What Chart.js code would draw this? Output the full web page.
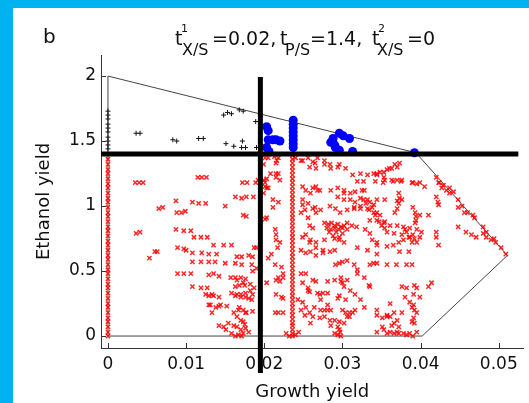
<!DOCTYPE html>
<html>
<head>
<meta charset="utf-8">
<script src="https://cdn.jsdelivr.net/npm/chart.js@4"></script>
<style>
  html, body { margin:0; padding:0; background:#00b2f0; width:529px; height:403px; overflow:hidden; }
  #wrap { position:absolute; left:13px; top:8px; width:516px; height:395px; background:#fff; }
</style>
</head>
<body>
<div id="wrap"><canvas id="yieldChart" width="516" height="395"></canvas></div>
<script>
// axes
const xTicks = [0, 0.01, 0.02, 0.03, 0.04, 0.05];
const yTicks = [0, 0.5, 1, 1.5, 2];
const xMin = -0.00089, xMax = 0.05316;
const yMin = -0.092, yMax = 2.162;

// feasible region outline
const hullX = [0, 0.0394, 0.0511, 0.0402, 0, 0];
const hullY = [2, 1.41, 0.62, 0, 0, 2];

// thresholds (thick black lines)
const cutX = 0.0195;
const cutYSpan = [-0.285, 1.992];
const cutY = 1.4;
const cutXSpan = [xMin, 0.0525];

// red points on the x = 0 edge
const edgeY = [0, 0.03, 0.07, 0.11, 0.14, 0.18, 0.22, 0.25, 0.29, 0.33, 0.37, 0.4, 0.44, 0.48, 0.51, 0.55, 0.59,
  0.62, 0.66, 0.7, 0.73, 0.77, 0.81, 0.84, 0.88, 0.92, 0.95, 0.99, 1.03, 1.06, 1.1, 1.14, 1.17, 1.21, 1.25, 1.28, 1.32, 1.36];

// red strip near growth yield 0.0236
const stripX = 0.0236;
const stripY = [0, 0.02, 0.05, 0.08, 0.1, 0.13, 0.16, 0.19, 0.22, 0.25, 0.28, 0.31, 0.34, 0.37, 0.4, 0.43, 0.46, 0.49,
  0.52, 0.55, 0.58, 0.61, 0.64, 0.67, 0.7, 0.73, 0.76, 0.79, 0.82, 0.85, 0.88, 0.91, 0.94, 0.97, 1.0, 1.03, 1.06,
  1.09, 1.12, 1.15, 1.18, 1.21, 1.24, 1.27, 1.3, 1.33, 1.36, 1.39];

// other red points [growth, ethanol]
const redPts = [
  [0.0035,1.18],[0.004,1.18],[0.0045,1.18],[0.0115,1.22],[0.012,1.22],[0.0126,1.22],
  [0.0065,0.98],[0.007,0.99],[0.0088,0.95],[0.0094,0.95],[0.0099,0.96],
  [0.0087,1.04],[0.0108,1.03],[0.0116,1.02],[0.0125,1.02],[0.015,1.0],
  [0.0036,0.79],[0.0041,0.8],[0.0087,0.82],[0.0097,0.81],[0.0106,0.81],
  [0.011,0.76],[0.0119,0.76],[0.0127,0.76],[0.0135,0.7],[0.0148,0.7],[0.0158,0.7],
  [0.006,0.65],[0.0063,0.65],[0.0053,0.6],[0.0089,0.68],[0.0097,0.67],
  [0.01,0.66],[0.0108,0.64],[0.012,0.64],[0.0129,0.63],[0.0139,0.63],
  [0.0108,0.57],[0.0119,0.57],[0.0129,0.57],[0.0137,0.57],
  [0.015,0.56],[0.0163,0.56],[0.0171,0.55],[0.0184,0.55],
  [0.0165,0.61],[0.0171,0.61],[0.018,0.62],[0.0185,0.61],
  [0.0089,0.48],[0.0097,0.48],[0.0106,0.48],[0.0129,0.47],[0.0135,0.48],[0.0142,0.46],
  [0.0157,0.45],[0.0163,0.45],[0.017,0.45],[0.0176,0.44],
  [0.0108,0.38],[0.0119,0.37],[0.0127,0.37],
  [0.0129,0.31],[0.0135,0.31],[0.0163,0.31],[0.017,0.32],[0.0176,0.3],[0.0185,0.32],
  [0.0168,0.39],[0.0175,0.39],[0.0182,0.4],[0.0187,0.37],
  [0.0131,0.24],[0.0142,0.23],[0.0152,0.23],[0.0168,0.22],[0.0173,0.2],[0.0176,0.18],[0.0185,0.19],
  [0.0154,0.1],[0.0161,0.08],[0.0165,0.07],[0.017,0.05],[0.0173,0.02],[0.0167,0.01],[0.0158,0.02],
  [0.0163,0],[0.0171,0],[0.0176,0.06],[0.0165,0.15],[0.017,0.12],[0.0173,0.11],[0.0161,0.18],
  [0.0167,0.2],[0.0177,0.18],[0.0142,0.08],[0.0148,0.07],[0.0151,0.05],[0.018,0.03],[0.0175,0.09],
  [0.0158,0.33],[0.0165,0.32],[0.017,0.3],[0.0176,0.33],[0.0182,0.35],[0.0163,0.38],[0.0165,0.43],
  [0.0173,0.41],[0.018,0.29],[0.0184,0.28],[0.0125,0.32],[0.0133,0.32],[0.0142,0.3],
  [0.0129,0.24],[0.0138,0.22],[0.0144,0.24],[0.0133,0.18],
  [0.0172,1.18],[0.0178,1.18],[0.0163,1.07],[0.0171,1.06],[0.0177,1.07],[0.0186,1.07],
  [0.0173,0.93],[0.0177,0.92],[0.0189,1.18],[0.019,0.68],[0.0187,0.68],[0.0185,0.5],[0.019,0.52],
  [0.0192,1.2],[0.0199,1.2],[0.0203,1.21],[0.0201,1.15],[0.0205,1.14],[0.0208,1.25],[0.0215,1.25],
  [0.0215,1.33],[0.0216,1.35],[0.0205,1.37],[0.0213,1.38],[0.0218,1.37],[0.0201,1.37],[0.0199,1.32],
  [0.0218,1.25],[0.0215,1.22],[0.022,1.2],[0.0201,1.18],[0.0203,1.14],[0.0199,1.1],
  [0.0211,1.05],[0.0218,1.03],[0.0211,0.99],[0.0203,0.91],[0.0201,0.9],[0.0214,0.82],[0.0215,0.78],
  [0.0215,0.74],[0.022,0.72],[0.0217,0.68],[0.0203,0.41],
  [0.0214,0.55],[0.0222,0.53],[0.0224,0.48],[0.0218,0.45],[0.0224,0.45],[0.0215,0.43],[0.022,0.42],
  [0.0215,0.32],[0.0222,0.3],[0.0224,0.29],[0.0214,0.18],[0.0218,0.18],[0.0224,0.18],
  [0.0228,0.02],[0.0232,0],[0.024,0.01],[0.0244,0.03],[0.0205,0.6],[0.0209,0.63],
  [0.024,1.37],[0.0249,1.35],[0.0258,1.3],[0.0265,1.33],[0.0277,1.32],[0.0285,1.29],[0.0296,1.32],[0.0304,1.29],
  [0.0247,1.35],[0.0256,1.37],[0.0262,1.34],[0.0268,1.37],[0.0277,1.35],[0.0284,1.32],[0.0294,1.3],[0.0266,1.29],
  [0.0313,1.24],[0.0323,1.25],[0.0332,1.24],[0.0344,1.25],[0.0353,1.22],
  [0.034,1.25],[0.0348,1.26],[0.0357,1.28],[0.0363,1.29],[0.037,1.3],
  [0.0319,1.19],[0.0327,1.19],[0.0342,1.19],[0.0352,1.18],[0.0365,1.19],[0.0375,1.19],[0.039,1.18],[0.0395,1.17],
  [0.0249,1.15],[0.0253,1.12],[0.0259,1.1],[0.0266,1.15],[0.0271,1.12],[0.0262,1.14],[0.0268,1.12],
  [0.0249,1.05],[0.0256,1.02],[0.0252,0.97],[0.0265,0.99],[0.0249,1.01],[0.0262,0.98],[0.0266,0.95],[0.0272,0.97],
  [0.0284,1.0],[0.0291,0.98],[0.0297,0.95],[0.0306,0.97],[0.0315,0.98],[0.0323,0.98],
  [0.0302,1.1],[0.031,1.1],[0.0316,1.11],[0.0325,1.12],
  [0.0332,1.05],[0.0338,0.99],[0.0344,0.95],[0.0342,0.93],[0.0334,0.97],[0.0327,1.05],[0.033,1.02],[0.0335,1.03],
  [0.0285,1.12],[0.0294,1.14],[0.0302,1.12],[0.0294,1.07],[0.0302,1.05],[0.031,1.05],[0.0316,1.03],[0.0323,1.06],[0.0328,1.12],
  [0.034,1.01],[0.0348,0.93],[0.0344,1.05],[0.0354,1.05],[0.037,1.04],[0.0376,1.05],
  [0.0247,0.95],[0.0256,0.91],[0.0258,0.85],[0.0262,0.83],[0.0253,0.78],[0.0258,0.72],[0.0266,0.68],[0.0275,0.66],
  [0.0277,0.87],[0.0282,0.86],[0.0286,0.87],[0.029,0.85],[0.0294,0.86],[0.0298,0.84],[0.0302,0.85],
  [0.028,0.83],[0.0285,0.82],[0.029,0.83],[0.0295,0.82],[0.03,0.83],[0.0283,0.8],[0.0292,0.8],[0.03,0.79],
  [0.0288,0.77],[0.0296,0.76],[0.0306,0.87],[0.0312,0.85],[0.0318,0.84],[0.0306,0.82],
  [0.0335,0.89],[0.0347,0.88],[0.0354,0.88],
  [0.0315,0.99],[0.0323,1.0],[0.0332,0.98],[0.034,0.95],[0.0344,0.89],[0.035,0.85],[0.0354,0.83],
  [0.0249,0.76],[0.0259,0.74],[0.0266,0.72],[0.0277,0.74],[0.029,0.75],[0.0296,0.74],[0.0302,0.72],[0.0319,0.68],[0.0332,0.66],
  [0.0247,0.66],[0.0253,0.64],[0.0259,0.65],[0.0266,0.62],[0.0275,0.64],[0.0284,0.65],[0.029,0.66],
  [0.0291,0.55],[0.0296,0.56],[0.03,0.57],[0.0306,0.58],[0.0315,0.55],[0.0319,0.51],
  [0.0247,0.48],[0.0253,0.48],[0.0262,0.43],[0.0266,0.42],[0.0256,0.35],[0.0258,0.34],
  [0.0271,0.32],[0.0275,0.33],[0.0281,0.33],[0.0281,0.42],[0.029,0.43],[0.0298,0.42],[0.03,0.41],
  [0.0294,0.29],[0.0296,0.31],[0.0304,0.28],[0.0249,0.26],[0.0253,0.22],[0.0258,0.18],[0.0262,0.15],
  [0.0277,0.2],[0.0281,0.2],[0.0271,0.14],[0.0284,0.12],[0.0285,0.08],
  [0.03,0.2],[0.0304,0.18],[0.0309,0.18],[0.0313,0.18],[0.0306,0.15],
  [0.0294,0.07],[0.0296,0.05],[0.0294,0.01],[0.0298,0],[0.029,0.02],[0.0296,0.11],
  [0.0319,0.48],[0.0328,0.45],[0.0335,0.55],[0.034,0.56],[0.0344,0.56],[0.0335,0.38],
  [0.0344,0.16],[0.0353,0.05],[0.0334,0.39],[0.0344,0.2],[0.0351,0.14],[0.0357,0.16],[0.0361,0.15],
  [0.0366,0.1],[0.0372,0.07],[0.0344,0.03],[0.0357,0.02],[0.0366,0.02],[0.0372,0.02],
  [0.0298,0.45],[0.0306,0.43],[0.0302,0.38],[0.031,0.35],[0.0316,0.32],[0.0323,0.28],[0.0328,0.22],
  [0.0316,0.2],[0.0309,0.15],[0.0302,0.1],[0.0297,0.03],
  [0.0249,0.41],[0.0256,0.37],[0.0268,0.33],[0.0272,0.28],[0.0281,0.24],[0.0285,0.2],[0.029,0.12],
  [0.0277,0.15],[0.0272,0.2],[0.0264,0.22],[0.0243,0.28],[0.0247,0.2],[0.0252,0.16],[0.0259,0.1],
  [0.0344,1.24],[0.0353,1.26],[0.036,1.29],[0.0367,1.32],[0.0373,1.33],
  [0.0354,1.2],[0.0363,1.2],[0.037,1.2],[0.0376,1.2],[0.0389,1.18],[0.0399,1.18],
  [0.0405,1.15],[0.0423,1.18],[0.0427,1.14],[0.0433,1.12],[0.0437,1.1],
  [0.042,1.07],[0.0422,1.03],[0.0423,1.01],
  [0.0372,1.1],[0.0373,1.06],[0.0372,1.02],[0.037,0.98],[0.0367,0.95],
  [0.039,0.99],[0.0393,0.95],[0.0394,0.92],[0.0394,0.89],[0.0393,0.87],[0.041,0.93],[0.0399,0.93],
  [0.0448,0.99],[0.0456,0.95],[0.0467,0.93],
  [0.0448,0.84],[0.0458,0.8],[0.0465,0.78],[0.0471,0.76],[0.048,0.79],[0.0484,0.76],[0.049,0.74],
  [0.0496,0.72],[0.0503,0.68],[0.0509,0.63],
  [0.0353,0.87],[0.0361,0.85],[0.037,0.85],[0.0378,0.84],[0.0386,0.83],[0.0395,0.82],[0.0401,0.8],
  [0.0357,0.8],[0.0366,0.79],[0.0376,0.78],[0.0385,0.76],[0.0392,0.75],[0.0399,0.76],[0.0389,0.72],
  [0.0395,0.72],[0.0378,0.74],[0.0382,0.8],[0.039,0.78],[0.0386,0.76],[0.038,0.82],
  [0.0373,0.65],[0.0385,0.65],[0.042,0.76],[0.0423,0.7],[0.042,0.8],
  [0.0357,0.55],[0.0369,0.55],[0.0382,0.55],[0.0389,0.55],
  [0.0376,0.38],[0.0382,0.37],[0.0392,0.39],[0.0395,0.37],[0.041,0.38],[0.0414,0.41],
  [0.038,0.3],[0.0391,0.32],[0.0399,0.3],
  [0.0361,0.25],[0.0386,0.26],[0.0391,0.24],[0.0389,0.22],[0.0392,0.2],[0.0395,0.18],[0.0391,0.14],
  [0.0389,0.11],[0.0392,0.1],[0.0366,0.18],[0.0376,0.18],[0.0357,0.15],[0.037,0.12],[0.0363,0.08],
  [0.0351,0.07],[0.0361,0.03],[0.037,0.03],[0.0378,0.02],[0.0386,0.02],[0.0395,0.03],[0.0382,0.01],[0.039,0],
  [0.042,1.22],[0.0424,1.18],[0.0429,1.16],[0.0437,1.14],[0.0442,1.11],
  [0.0448,1.05],[0.0453,1.0],[0.046,0.95],[0.0469,0.91],[0.048,0.84],[0.0484,0.8],[0.0494,0.75],
  [0.0344,0.63],[0.0344,0.7],[0.0329,0.82],[0.0335,0.79],[0.0338,0.74],[0.0344,0.72],
  [0.0357,0.69],[0.0365,0.7],[0.0372,0.72]
];

// blue points above the ethanol threshold
const bluePts = [
  [0.0203,1.61],[0.0205,1.58],[0.0205,1.51],[0.0211,1.51],[0.0215,1.51],[0.022,1.5],[0.0203,1.45],[0.0206,1.42],
  [0.0237,1.45],[0.0237,1.48],[0.0237,1.51],[0.0237,1.54],[0.0237,1.57],[0.0237,1.6],[0.0237,1.63],[0.0237,1.66],
  [0.0296,1.56],[0.0285,1.49],[0.0309,1.52],[0.0291,1.45],[0.0313,1.42],[0.0392,1.41],
  [0.0301,1.54],[0.0288,1.52],[0.029,1.47],[0.0296,1.43]
];

// black points above the threshold, below cutX
const blackPts = [
  [0,1.44],[0,1.47],[0,1.5],[0,1.53],[0,1.57],[0,1.6],[0,1.63],[0,1.67],[0,1.7],[0,1.73],
  [0.0036,1.56],[0.0041,1.56],[0.0083,1.51],[0.0088,1.5],[0.0116,1.52],[0.0122,1.52],
  [0.0148,1.7],[0.0153,1.72],[0.0158,1.71],[0.0168,1.74],[0.0173,1.73],
  [0.0151,1.48],[0.0161,1.46],[0.0171,1.45],[0.0176,1.45],[0.0172,1.5],[0.0189,1.65],[0.019,1.45]
];

const FONT = "'DejaVu Sans', sans-serif";
const toXY = pts => pts.map(p => ({x: p[0], y: p[1]}));

const redData = edgeY.map(y => ({x: 0, y: y}))
  .concat(stripY.map(y => ({x: stripX, y: y})))
  .concat(toXY(redPts));

const hullData = hullX.map((x, i) => ({x: x, y: hullY[i]}));

// inward tick marks like the original figure
const inwardTicks = {
  id: "inwardTicks",
  afterDraw(chart) {
    const {ctx, chartArea: a, scales: {x, y}} = chart;
    ctx.save();
    ctx.strokeStyle = "#333";
    ctx.lineWidth = 1;
    ctx.beginPath();
    xTicks.forEach(v => {
      const px = Math.round(x.getPixelForValue(v)) + 0.5;
      ctx.moveTo(px, a.bottom);
      ctx.lineTo(px, a.bottom - 5);
    });
    yTicks.forEach(v => {
      const py = Math.round(y.getPixelForValue(v)) + 0.5;
      ctx.moveTo(a.left, py);
      ctx.lineTo(a.left + 5, py);
    });
    ctx.stroke();
    ctx.restore();
  }
};

// panel letter and parameter line
const panelTitle = {
  id: "panelTitle",
  afterDraw(chart) {
    const c = chart.ctx;
    c.save();
    c.fillStyle = "#111";
    c.textBaseline = "alphabetic";
    c.textAlign = "left";
    c.font = "20px " + FONT;
    c.fillText("b", 30, 35);
    const parts = [
      ["t", 162, 37, 19], ["1", 168, 24, 11], ["X/S", 169, 47, 16], ["=0.02,", 199, 37, 19],
      ["t", 267, 37, 19], ["P/S", 272, 47, 16], ["=1.4,", 297, 37, 19],
      ["t", 359, 37, 19], ["2", 365, 24, 11], ["X/S", 364, 47, 16], ["=0", 394, 37, 19]
    ];
    parts.forEach(p => {
      c.font = p[3] + "px " + FONT;
      c.fillText(p[0], p[1], p[2]);
    });
    c.restore();
  }
};

const ctx = document.getElementById("yieldChart");

new Chart(ctx, {
  type: "scatter",
  data: {
    datasets: [
      {
        label: "growth cut",
        data: [{x: cutX, y: cutYSpan[0]}, {x: cutX, y: cutYSpan[1]}],
        showLine: true, borderColor: "#000", borderWidth: 5, pointRadius: 0,
        borderCapStyle: "butt", clip: false, order: 0
      },
      {
        label: "ethanol cut",
        data: [{x: cutXSpan[0], y: cutY}, {x: cutXSpan[1], y: cutY}],
        showLine: true, borderColor: "#000", borderWidth: 5, pointRadius: 0,
        borderCapStyle: "butt", clip: false, order: 0
      },
      {
        label: "above both",
        data: toXY(bluePts),
        pointStyle: "circle", pointRadius: 4.5, backgroundColor: "#0000ff",
        borderColor: "#0000ff", borderWidth: 0, order: 1
      },
      {
        label: "above ethanol",
        data: toXY(blackPts),
        pointStyle: "cross", pointRadius: 2.5, borderColor: "#111", borderWidth: 1, order: 2
      },
      {
        label: "below",
        data: redData,
        pointStyle: "crossRot", pointRadius: 3, borderColor: "rgba(255,0,0,0.85)", borderWidth: 1.5, order: 3
      },
      {
        label: "hull",
        data: hullData,
        showLine: true, borderColor: "#444", borderWidth: 1, pointRadius: 0, order: 4
      }
    ]
  },
  options: {
    responsive: false,
    animation: false,
    devicePixelRatio: 1,
    events: [],
    layout: { padding: { left: 0, top: 47, right: 1, bottom: 0 } },
    plugins: {
      legend: { display: false },
      tooltip: { enabled: false }
    },
    scales: {
      x: {
        type: "linear",
        min: xMin,
        max: xMax,
        afterBuildTicks: s => { s.ticks = xTicks.map(v => ({value: v})); },
        afterFit: s => { s.height = 55; },
        grid: { display: false, drawTicks: false },
        border: { display: true, color: "#333", width: 1 },
        ticks: {
          color: "#111", padding: 6, maxRotation: 0, autoSkip: false,
          font: { family: FONT, size: 17 },
          callback: v => String(v)
        },
        title: {
          display: true, text: "Growth yield", color: "#111",
          font: { family: FONT, size: 18 }, padding: { top: 0, bottom: 0 }
        }
      },
      y: {
        type: "linear",
        min: yMin,
        max: yMax,
        afterBuildTicks: s => { s.ticks = yTicks.map(v => ({value: v})); },
        afterFit: s => { s.width = 88; },
        grid: { display: false, drawTicks: false },
        border: { display: true, color: "#333", width: 1 },
        ticks: {
          color: "#111", padding: 5, autoSkip: false,
          font: { family: FONT, size: 17 },
          callback: v => String(v)
        },
        title: {
          display: true, text: "Ethanol yield", color: "#111",
          font: { family: FONT, size: 18 }, padding: { top: 21, bottom: 0 }
        }
      }
    }
  },
  plugins: [inwardTicks, panelTitle]
});
</script>
</body>
</html>
